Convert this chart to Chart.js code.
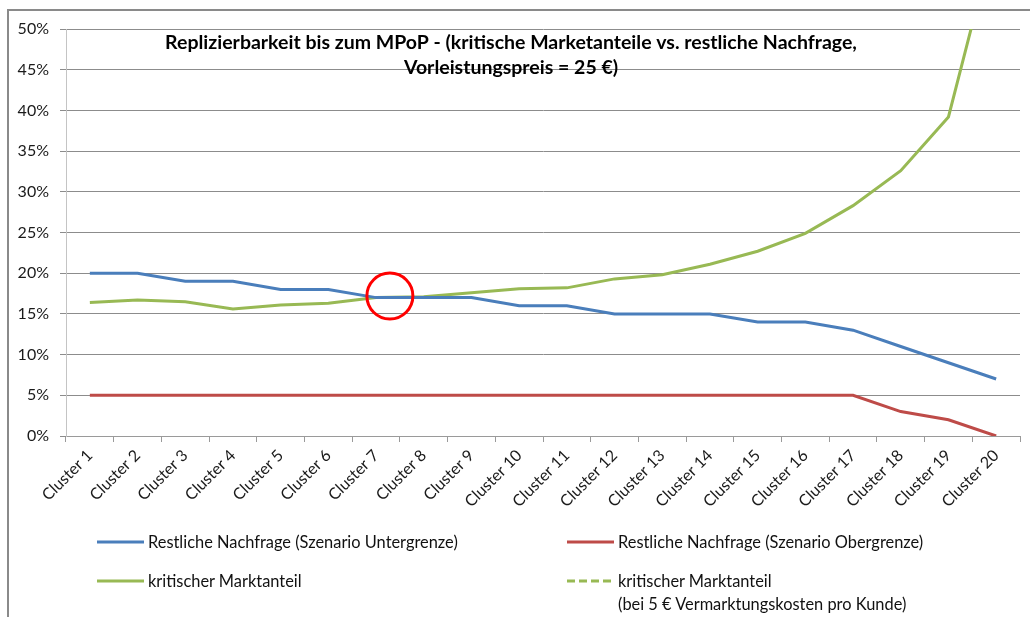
<!DOCTYPE html>
<html lang="de">
<head>
<meta charset="utf-8">
<title>Replizierbarkeit bis zum MPoP</title>
<script src="https://cdn.jsdelivr.net/npm/chart.js@4"></script>
<style>
    html, body { margin: 0; padding: 0; background: #fff; }
    #wrap { position: relative; width: 1030px; height: 617px; overflow: hidden; }
    #rahmen { position: absolute; left: 7px; top: 9px; width: 1100px; height: 700px;
              border-left: 2px solid #8a8a8a; border-top: 2px solid #8a8a8a; }
    canvas { position: absolute; left: 0; top: 0; }
    .leg { position: absolute; font-family: Lato, 'Open Sans', sans-serif; font-size: 16.4px;
           color: #111; line-height: 23px; white-space: nowrap; }
    .leg svg { position: absolute; left: 0; top: 10px; }
    .leg span { position: absolute; left: 51px; top: 0; }
</style>
</head>
<body>
<div id="wrap">
    <div id="rahmen"></div>
    <canvas id="chart" width="1030" height="617"></canvas>
    <div id="legende"></div>
</div>
<script>
// Kategorien und Werte (in %)
const cluster = ['Cluster 1', 'Cluster 2', 'Cluster 3', 'Cluster 4', 'Cluster 5', 'Cluster 6', 'Cluster 7',
    'Cluster 8', 'Cluster 9', 'Cluster 10', 'Cluster 11', 'Cluster 12', 'Cluster 13', 'Cluster 14',
    'Cluster 15', 'Cluster 16', 'Cluster 17', 'Cluster 18', 'Cluster 19', 'Cluster 20'];
const nachfrageUnter = [20, 20, 19, 19, 18, 18, 17, 17, 17, 16, 16, 15, 15, 15, 14, 14, 13, 11, 9, 7];
const nachfrageOber = [5, 5, 5, 5, 5, 5, 5, 5, 5, 5, 5, 5, 5, 5, 5, 5, 5, 3, 2, 0];
const kritischerAnteil = [16.4, 16.7, 16.5, 15.6, 16.1, 16.3, 17.0, 17.1, 17.6, 18.1,
    18.2, 19.3, 19.8, 21.1, 22.7, 24.9, 28.3, 32.6, 39.2, 62];
const kritischerAnteil5 = []; // im Original nicht sichtbar, nur Legende
const yTicks = [0, 5, 10, 15, 20, 25, 30, 35, 40, 45, 50];
// Markierung des Schnittpunkts (Kategorie-Index, Wert)
const schnittpunkt = [{ x: 6.29, y: 17.2 }];

const titelZeilen = ['Replizierbarkeit bis zum MPoP - (kritische Marketanteile vs. restliche Nachfrage,',
    'Vorleistungspreis = 25 €)'];

const legendeLabels = ['Restliche Nachfrage (Szenario Untergrenze)', 'Restliche Nachfrage (Szenario Obergrenze)',
    'kritischer Marktanteil', 'kritischer Marktanteil\n(bei 5 € Vermarktungskosten pro Kunde)'];

const BLAU = '#4a7ebb', ROT = '#be4b48', GRUEN = '#98b954';
const schrift = "Lato, 'Open Sans', sans-serif";

// Titel liegt im Diagrammbereich, über den Gitterlinien
const titelPlugin = {
    id: 'titelImPlot',
    afterDraw(chart) {
        const ctx = chart.ctx;
        ctx.save();
        ctx.font = 'bold 19.5px ' + schrift;
        ctx.fillStyle = '#000';
        ctx.textAlign = 'center';
        ctx.textBaseline = 'middle';
        titelZeilen.forEach((z, i) => ctx.fillText(z, 511, 43 + i * 25));
        ctx.restore();
    }
};

function linie(label, data, farbe, dash, order) {
    return {
        label: label, data: data, borderColor: farbe, backgroundColor: farbe,
        borderWidth: 3, borderDash: dash || [], pointRadius: 0, tension: 0, order: order
    };
}

const chart = new Chart(document.getElementById('chart'), {
    type: 'line',
    data: {
        labels: cluster,
        datasets: [
            linie(legendeLabels[0], nachfrageUnter, BLAU, null, 1),
            linie(legendeLabels[1], nachfrageOber, ROT, null, 2),
            linie(legendeLabels[2], kritischerAnteil, GRUEN, null, 3),
            linie(legendeLabels[3], kritischerAnteil5, GRUEN, [8, 4], 4),
            {
                type: 'scatter', label: 'markierung', data: schnittpunkt, xAxisID: 'xm',
                pointRadius: 23, pointHoverRadius: 23, pointBorderWidth: 3,
                pointBorderColor: '#ff0000', pointBackgroundColor: 'rgba(0,0,0,0)',
                showLine: false, order: 0, clip: false
            }
        ]
    },
    options: {
        responsive: false,
        animation: false,
        devicePixelRatio: 1,
        // sonst reserviert Chart.js Platz für den großen Kreis
        layout: { autoPadding: false, padding: { left: 0, top: 29, right: 10, bottom: 101 } },
        plugins: { legend: { display: false }, title: { display: false }, tooltip: { enabled: false } },
        scales: {
            x: {
                type: 'category',
                offset: true,
                grid: { offset: true, drawOnChartArea: false, tickLength: 6, color: '#9a9a9a' },
                border: { color: '#9a9a9a' },
                ticks: { autoSkip: false, minRotation: 45, maxRotation: 45, padding: 4, color: '#1a1a1a',
                         font: { family: schrift, size: 16 } },
                afterFit(s) { s.height = 80; s.paddingLeft = 0; s.paddingRight = 0; }
            },
            xm: { type: 'linear', display: false, min: -0.5, max: cluster.length - 0.5 },
            y: {
                min: 0, max: 50,
                afterBuildTicks(s) { s.ticks = yTicks.map(v => ({ value: v })); },
                grid: { color: '#8c8c8c', tickLength: 6 },
                border: { color: '#c4c4c4' },
                ticks: { padding: 11, color: '#1a1a1a', font: { family: schrift, size: 16 },
                         callback: v => v + '%' },
                afterFit(s) { s.width = 66; }
            }
        }
    },
    plugins: [titelPlugin]
});

// Legende als HTML, zweispaltig wie im Original
const legPos = [[97, 530], [567, 530], [97, 569], [567, 569]];
const legende = document.getElementById('legende');
chart.data.datasets.slice(0, 4).forEach((ds, i) => {
    const el = document.createElement('div');
    el.className = 'leg';
    el.style.left = legPos[i][0] + 'px';
    el.style.top = legPos[i][1] + 'px';
    const dash = ds.borderDash.length ? ' stroke-dasharray="' + ds.borderDash.join(',') + '"' : '';
    el.innerHTML = '<svg width="47" height="4"><line x1="0" y1="2" x2="47" y2="2" stroke="' +
        ds.borderColor + '" stroke-width="3"' + dash + '/></svg>';
    const txt = document.createElement('span');
    txt.innerHTML = ds.label.replace('\n', '<br>');
    el.appendChild(txt);
    legende.appendChild(el);
});
</script>
</body>
</html>
